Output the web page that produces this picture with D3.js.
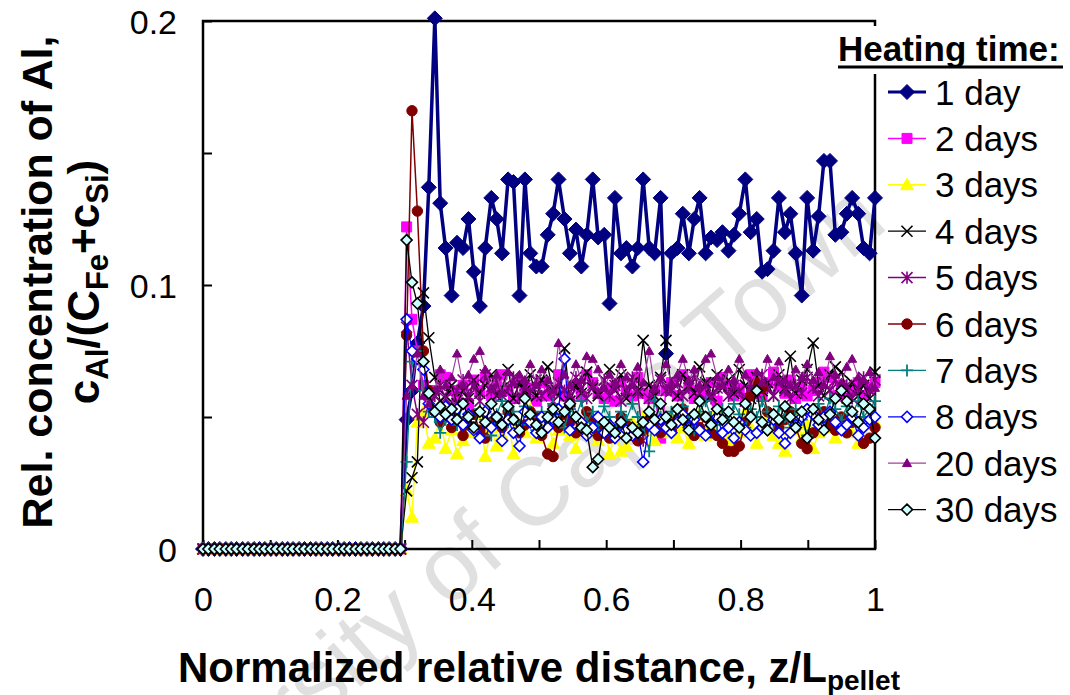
<!DOCTYPE html>
<html>
<head>
<meta charset="utf-8">
<script src="https://cdn.jsdelivr.net/npm/d3@7"></script>
<style>
  body { margin: 0; background: #fff; }
  svg { font-family: "Liberation Sans", Arial, sans-serif; }
</style>
</head>
<body>
<div id="chart"></div>
<script>
var svgWidth = 1070;
var svgHeight = 695;

var margin = { top: 21, right: 195, bottom: 146, left: 203 };
var width = svgWidth - margin.left - margin.right;
var height = svgHeight - margin.top - margin.bottom;

// sample positions z/L (120 points)
var dist = [
  0.000, 0.008, 0.017, 0.025, 0.034, 0.042, 0.050, 0.059, 0.067, 0.076, 0.084, 0.092,
  0.101, 0.109, 0.118, 0.126, 0.134, 0.143, 0.151, 0.160, 0.168, 0.176, 0.185, 0.193,
  0.202, 0.210, 0.218, 0.227, 0.235, 0.244, 0.252, 0.261, 0.269, 0.277, 0.286, 0.294,
  0.303, 0.311, 0.319, 0.328, 0.336, 0.345, 0.353, 0.361, 0.370, 0.378, 0.387, 0.395,
  0.403, 0.412, 0.420, 0.429, 0.437, 0.445, 0.454, 0.462, 0.471, 0.479, 0.487, 0.496,
  0.504, 0.513, 0.521, 0.529, 0.538, 0.546, 0.555, 0.563, 0.571, 0.580, 0.588, 0.597,
  0.605, 0.613, 0.622, 0.630, 0.639, 0.647, 0.655, 0.664, 0.672, 0.681, 0.689, 0.697,
  0.706, 0.714, 0.723, 0.731, 0.739, 0.748, 0.756, 0.765, 0.773, 0.782, 0.790, 0.798,
  0.807, 0.815, 0.824, 0.832, 0.840, 0.849, 0.857, 0.866, 0.874, 0.882, 0.891, 0.899,
  0.908, 0.916, 0.924, 0.933, 0.941, 0.950, 0.958, 0.966, 0.975, 0.983, 0.992, 1.000
];

// no Al found before z/L ~ 0.3 (first 36 samples)
var leadZeros = [
  0, 0, 0, 0, 0, 0, 0, 0, 0, 0, 0, 0,
  0, 0, 0, 0, 0, 0, 0, 0, 0, 0, 0, 0,
  0, 0, 0, 0, 0, 0, 0, 0, 0, 0, 0, 0
];

var day1 = leadZeros.concat([
  0.049, 0.060, 0.078, 0.092, 0.137, 0.201, 0.131, 0.114, 0.096, 0.116, 0.114, 0.125,
  0.105, 0.092, 0.114, 0.133, 0.125, 0.112, 0.140, 0.139, 0.096, 0.140, 0.112, 0.107,
  0.107, 0.119, 0.127, 0.140, 0.125, 0.112, 0.121, 0.107, 0.119, 0.140, 0.118, 0.119,
  0.093, 0.133, 0.112, 0.114, 0.107, 0.114, 0.140, 0.114, 0.112, 0.133, 0.074, 0.112,
  0.114, 0.127, 0.112, 0.125, 0.133, 0.112, 0.118, 0.117, 0.120, 0.113, 0.119, 0.127,
  0.140, 0.120, 0.125, 0.105, 0.106, 0.113, 0.133, 0.120, 0.127, 0.112, 0.096, 0.133,
  0.113, 0.126, 0.147, 0.147, 0.119, 0.120, 0.127, 0.133, 0.127, 0.114, 0.112, 0.133
]);

var day2 = leadZeros.concat([
  0.122, 0.087, 0.075, 0.062, 0.058, 0.060, 0.066, 0.065, 0.060, 0.058, 0.062, 0.055,
  0.064, 0.060, 0.065, 0.058, 0.062, 0.066, 0.060, 0.057, 0.063, 0.059, 0.061, 0.056,
  0.063, 0.058, 0.060, 0.066, 0.058, 0.055, 0.062, 0.058, 0.066, 0.063, 0.059, 0.057,
  0.061, 0.056, 0.063, 0.060, 0.058, 0.065, 0.059, 0.057, 0.060, 0.042, 0.060, 0.063,
  0.058, 0.066, 0.061, 0.057, 0.060, 0.058, 0.063, 0.056, 0.065, 0.062, 0.058, 0.061,
  0.057, 0.066, 0.060, 0.058, 0.063, 0.067, 0.062, 0.059, 0.064, 0.057, 0.061, 0.058,
  0.060, 0.063, 0.067, 0.065, 0.058, 0.062, 0.057, 0.060, 0.063, 0.058, 0.061, 0.063
]);

var day3 = leadZeros.concat([
  0.022, 0.012, 0.048, 0.052, 0.040, 0.042, 0.050, 0.038, 0.045, 0.036, 0.041, 0.048,
  0.044, 0.052, 0.035, 0.046, 0.039, 0.043, 0.050, 0.036, 0.047, 0.044, 0.053, 0.042,
  0.046, 0.049, 0.040, 0.045, 0.051, 0.043, 0.038, 0.047, 0.050, 0.044, 0.041, 0.048,
  0.036, 0.044, 0.037, 0.039, 0.048, 0.043, 0.050, 0.045, 0.041, 0.047, 0.044, 0.049,
  0.042, 0.046, 0.040, 0.048, 0.051, 0.043, 0.047, 0.053, 0.045, 0.041, 0.048, 0.044,
  0.052, 0.046, 0.040, 0.047, 0.050, 0.043, 0.040, 0.037, 0.045, 0.051, 0.042, 0.047,
  0.038, 0.044, 0.049, 0.046, 0.042, 0.048, 0.051, 0.044, 0.040, 0.047, 0.050, 0.048
]);

var day4 = leadZeros.concat([
  0.022, 0.027, 0.033, 0.097, 0.080, 0.065, 0.056, 0.058, 0.062, 0.055, 0.060, 0.057,
  0.064, 0.059, 0.062, 0.066, 0.058, 0.061, 0.068, 0.057, 0.063, 0.060, 0.066, 0.058,
  0.064, 0.069, 0.060, 0.058, 0.076, 0.056, 0.062, 0.059, 0.067, 0.061, 0.058, 0.064,
  0.068, 0.060, 0.066, 0.057, 0.063, 0.060, 0.079, 0.062, 0.058, 0.065, 0.079, 0.060,
  0.058, 0.066, 0.062, 0.059, 0.069, 0.063, 0.058, 0.066, 0.061, 0.064, 0.059, 0.068,
  0.062, 0.057, 0.065, 0.060, 0.063, 0.058, 0.066, 0.061, 0.073, 0.059, 0.064, 0.068,
  0.078, 0.062, 0.058, 0.066, 0.069, 0.067, 0.060, 0.063, 0.058, 0.062, 0.057, 0.067
]);

var day5 = leadZeros.concat([
  0.084, 0.062, 0.051, 0.048, 0.055, 0.058, 0.062, 0.057, 0.054, 0.060, 0.064, 0.058,
  0.062, 0.056, 0.066, 0.060, 0.063, 0.058, 0.061, 0.065, 0.057, 0.062, 0.059, 0.064,
  0.058, 0.061, 0.056, 0.063, 0.060, 0.058, 0.065, 0.061, 0.057, 0.062, 0.059, 0.064,
  0.058, 0.062, 0.056, 0.060, 0.065, 0.059, 0.041, 0.057, 0.061, 0.064, 0.060, 0.060,
  0.063, 0.058, 0.061, 0.066, 0.059, 0.062, 0.057, 0.061, 0.064, 0.058, 0.062, 0.060,
  0.056, 0.063, 0.059, 0.066, 0.061, 0.058, 0.064, 0.060, 0.057, 0.062, 0.059, 0.065,
  0.061, 0.058, 0.063, 0.060, 0.064, 0.059, 0.062, 0.057, 0.061, 0.065, 0.060, 0.064
]);

var day6 = leadZeros.concat([
  0.081, 0.166, 0.128, 0.075, 0.060, 0.052, 0.048, 0.050, 0.046, 0.049, 0.043, 0.047,
  0.051, 0.045, 0.042, 0.048, 0.050, 0.046, 0.052, 0.049, 0.044, 0.047, 0.052, 0.050,
  0.043, 0.036, 0.035, 0.046, 0.051, 0.048, 0.044, 0.047, 0.052, 0.049, 0.043, 0.046,
  0.042, 0.045, 0.050, 0.047, 0.043, 0.041, 0.045, 0.049, 0.046, 0.044, 0.048, 0.045,
  0.049, 0.053, 0.047, 0.043, 0.046, 0.050, 0.044, 0.043, 0.040, 0.037, 0.037, 0.039,
  0.048, 0.058, 0.063, 0.061, 0.052, 0.050, 0.046, 0.049, 0.052, 0.046, 0.040, 0.038,
  0.044, 0.049, 0.052, 0.047, 0.045, 0.050, 0.044, 0.048, 0.048, 0.040, 0.042, 0.046
]);

var day7 = leadZeros.concat([
  0.033, 0.071, 0.075, 0.060, 0.052, 0.050, 0.044, 0.049, 0.052, 0.047, 0.055, 0.050,
  0.046, 0.053, 0.049, 0.043, 0.051, 0.056, 0.048, 0.052, 0.047, 0.054, 0.050, 0.045,
  0.052, 0.049, 0.055, 0.051, 0.046, 0.053, 0.050, 0.056, 0.048, 0.052, 0.047, 0.054,
  0.050, 0.045, 0.052, 0.049, 0.055, 0.050, 0.047, 0.037, 0.056, 0.050, 0.050, 0.052,
  0.048, 0.054, 0.049, 0.045, 0.052, 0.056, 0.050, 0.047, 0.053, 0.049, 0.055, 0.051,
  0.046, 0.053, 0.050, 0.056, 0.052, 0.048, 0.054, 0.050, 0.046, 0.053, 0.049, 0.043,
  0.051, 0.055, 0.050, 0.057, 0.053, 0.049, 0.054, 0.051, 0.056, 0.050, 0.053, 0.056
]);

var day8 = leadZeros.concat([
  0.087, 0.075, 0.072, 0.068, 0.055, 0.052, 0.050, 0.054, 0.049, 0.053, 0.047, 0.051,
  0.045, 0.042, 0.052, 0.046, 0.050, 0.041, 0.049, 0.044, 0.039, 0.052, 0.048, 0.044,
  0.050, 0.046, 0.049, 0.053, 0.072, 0.045, 0.050, 0.048, 0.043, 0.046, 0.050, 0.044,
  0.047, 0.042, 0.048, 0.045, 0.043, 0.044, 0.033, 0.047, 0.045, 0.049, 0.046, 0.044,
  0.048, 0.051, 0.046, 0.049, 0.045, 0.043, 0.047, 0.050, 0.044, 0.046, 0.042, 0.048,
  0.045, 0.043, 0.044, 0.046, 0.045, 0.049, 0.044, 0.040, 0.044, 0.047, 0.050, 0.053,
  0.051, 0.047, 0.050, 0.052, 0.048, 0.045, 0.047, 0.050, 0.043, 0.046, 0.049, 0.050
]);

var day20 = leadZeros.concat([
  0.058, 0.062, 0.074, 0.058, 0.055, 0.060, 0.068, 0.062, 0.065, 0.074, 0.062, 0.066,
  0.072, 0.075, 0.068, 0.061, 0.066, 0.059, 0.067, 0.063, 0.066, 0.064, 0.070, 0.062,
  0.068, 0.064, 0.060, 0.078, 0.066, 0.062, 0.070, 0.064, 0.073, 0.072, 0.068, 0.061,
  0.066, 0.063, 0.070, 0.065, 0.062, 0.069, 0.063, 0.075, 0.061, 0.065, 0.070, 0.063,
  0.066, 0.072, 0.064, 0.068, 0.062, 0.072, 0.074, 0.065, 0.062, 0.068, 0.064, 0.072,
  0.066, 0.061, 0.067, 0.063, 0.072, 0.065, 0.071, 0.064, 0.062, 0.068, 0.065, 0.070,
  0.064, 0.067, 0.062, 0.073, 0.066, 0.063, 0.069, 0.072, 0.065, 0.064, 0.067, 0.061
]);

var day30 = leadZeros.concat([
  0.117, 0.101, 0.093, 0.071, 0.059, 0.052, 0.054, 0.051, 0.053, 0.049, 0.055, 0.050,
  0.046, 0.052, 0.048, 0.055, 0.050, 0.047, 0.054, 0.049, 0.045, 0.057, 0.051, 0.047,
  0.044, 0.050, 0.053, 0.048, 0.052, 0.055, 0.050, 0.046, 0.045, 0.031, 0.034, 0.048,
  0.046, 0.044, 0.048, 0.042, 0.046, 0.044, 0.048, 0.052, 0.049, 0.055, 0.050, 0.047,
  0.053, 0.049, 0.045, 0.051, 0.056, 0.050, 0.047, 0.053, 0.049, 0.052, 0.048, 0.046,
  0.055, 0.050, 0.060, 0.048, 0.045, 0.051, 0.049, 0.054, 0.050, 0.046, 0.052, 0.042,
  0.053, 0.049, 0.045, 0.051, 0.057, 0.060, 0.056, 0.052, 0.048, 0.055, 0.053, 0.042
]);

var seriesNames = ["1 day", "2 days", "3 days", "4 days", "5 days", "6 days", "7 days", "8 days", "20 days", "30 days"];
var seriesValues = [day1, day2, day3, day4, day5, day6, day7, day8, day20, day30];

var xTicks = [0, 0.1, 0.2, 0.3, 0.4, 0.5, 0.6, 0.7, 0.8, 0.9, 1];
var xTickLabels = ["0", "", "0.2", "", "0.4", "", "0.6", "", "0.8", "", "1"];
var yTicks = [0, 0.05, 0.1, 0.15, 0.2];
var yTickLabels = ["0", "", "0.1", "", "0.2"];

// look of each series (Excel style markers)
var styles = [
  { line: "#000080", lw: 3.5, marker: "diamond", r: 7.5, fill: "#000080", stroke: "#000080", sw: 1 },
  { line: "#FF00FF", lw: 1.5, marker: "square", r: 5, fill: "#FF00FF", stroke: "#FF00FF", sw: 1 },
  { line: "#FFFF00", lw: 1.5, marker: "triangle", r: 6.5, fill: "#FFFF00", stroke: "#FFFF00", sw: 1 },
  { line: "#000000", lw: 1.3, marker: "times", r: 5.5, fill: "none", stroke: "#000000", sw: 1.6 },
  { line: "#800080", lw: 1.5, marker: "asterisk", r: 5.5, fill: "none", stroke: "#800080", sw: 1.6 },
  { line: "#800000", lw: 1.5, marker: "circle", r: 5.2, fill: "#800000", stroke: "#800000", sw: 1 },
  { line: "#008080", lw: 1.3, marker: "plus", r: 6, fill: "none", stroke: "#008080", sw: 1.8 },
  { line: "#0000FF", lw: 1.3, marker: "diamond", r: 5.5, fill: "#FFFFFF", stroke: "#0000FF", sw: 1.6 },
  { line: "#A040A0", lw: 1.2, marker: "triangle", r: 4.5, fill: "#800080", stroke: "#800080", sw: 1 },
  { line: "#000000", lw: 1.3, marker: "diamond", r: 5.5, fill: "#CCFFFF", stroke: "#000000", sw: 1.6 }
];

function markerPath(type, r) {
  if (type === "diamond") return `M0,${-r}L${r},0L0,${r}L${-r},0Z`;
  if (type === "square") return `M${-r},${-r}H${r}V${r}H${-r}Z`;
  if (type === "triangle") return `M0,${-r}L${r},${r * 0.75}L${-r},${r * 0.75}Z`;
  if (type === "times") return `M${-r},${-r}L${r},${r}M${-r},${r}L${r},${-r}`;
  if (type === "plus") return `M${-r},0H${r}M0,${-r}V${r}`;
  if (type === "asterisk") return `M${-r},${-r}L${r},${r}M${-r},${r}L${r},${-r}M0,${-r * 1.1}V${r * 1.1}`;
  return d3.symbol(d3.symbolCircle, Math.PI * r * r)();
}

var svg = d3.select("#chart")
  .append("svg")
  .attr("width", svgWidth)
  .attr("height", svgHeight);

// watermark
svg.append("text")
  .attr("transform", "translate(478, 540) rotate(-41)")
  .attr("text-anchor", "middle")
  .attr("dy", "0.35em")
  .style("font-size", "96px")
  .attr("fill", "#e0e0e0")
  .text("University of Cape Town");

var chartGroup = svg.append("g")
  .attr("transform", `translate(${margin.left}, ${margin.top})`);

var xLinearScale = d3.scaleLinear().domain([0, 1]).range([0, width]);
var yLinearScale = d3.scaleLinear().domain([0, 0.2]).range([height, 0]);

var bottomAxis = d3.axisBottom(xLinearScale)
  .tickValues(xTicks)
  .tickSizeInner(-9)
  .tickSizeOuter(0)
  .tickPadding(38)
  .tickFormat((d, i) => xTickLabels[i]);

var leftAxis = d3.axisLeft(yLinearScale)
  .tickValues(yTicks)
  .tickSizeInner(-9)
  .tickSizeOuter(0)
  .tickPadding(26)
  .tickFormat((d, i) => yTickLabels[i]);

var xAxis = chartGroup.append("g")
  .attr("transform", `translate(0, ${height})`)
  .call(bottomAxis);

var yAxis = chartGroup.append("g")
  .call(leftAxis);

[xAxis, yAxis].forEach(function(ax) {
  ax.select(".domain").remove();
  ax.selectAll(".tick line").attr("stroke", "#000").attr("stroke-width", 2);
  ax.selectAll(".tick text")
    .style("font-size", "34px")
    .style("font-family", "'Liberation Sans', Arial, sans-serif")
    .attr("fill", "#000");
});
yAxis.selectAll(".tick text").attr("dy", "0.36em");

// plot frame
chartGroup.append("rect")
  .attr("width", width)
  .attr("height", height)
  .attr("fill", "none")
  .attr("stroke", "#000")
  .attr("stroke-width", 2.5);

// series
var line = d3.line()
  .x((d, i) => xLinearScale(dist[i]))
  .y(d => yLinearScale(d));

seriesValues.forEach(function(vals, s) {
  var st = styles[s];
  var g = chartGroup.append("g");
  g.append("path")
    .datum(vals)
    .attr("d", line)
    .attr("fill", "none")
    .attr("stroke", st.line)
    .attr("stroke-width", st.lw)
    .attr("stroke-linejoin", "round");
  g.selectAll("path.mk")
    .data(vals)
    .enter()
    .append("path")
    .classed("mk", true)
    .attr("transform", (d, i) => `translate(${xLinearScale(dist[i])}, ${yLinearScale(d)})`)
    .attr("d", markerPath(st.marker, st.r))
    .attr("fill", st.fill)
    .attr("stroke", st.stroke)
    .attr("stroke-width", st.sw);
});

// legend title box
svg.append("rect")
  .attr("x", 832)
  .attr("y", 26)
  .attr("width", 238)
  .attr("height", 48)
  .attr("fill", "#fff");

svg.append("text")
  .attr("x", 838)
  .attr("y", 61)
  .style("font-size", "35px")
  .style("font-weight", "bold")
  .text("Heating time:");

svg.append("line")
  .attr("x1", 838)
  .attr("x2", 1063)
  .attr("y1", 67)
  .attr("y2", 67)
  .attr("stroke", "#000")
  .attr("stroke-width", 3);

var legend = svg.append("g")
  .selectAll("g")
  .data(seriesNames)
  .enter()
  .append("g")
  .attr("transform", (d, i) => `translate(888, ${92 + i * 46.4})`);

legend.append("line")
  .attr("x1", 0)
  .attr("x2", 38)
  .attr("stroke", (d, i) => styles[i].line)
  .attr("stroke-width", (d, i) => Math.min(styles[i].lw, 3));

legend.append("path")
  .attr("transform", "translate(19, 0)")
  .attr("d", (d, i) => markerPath(styles[i].marker, styles[i].r))
  .attr("fill", (d, i) => styles[i].fill)
  .attr("stroke", (d, i) => styles[i].stroke)
  .attr("stroke-width", (d, i) => styles[i].sw);

legend.append("text")
  .attr("x", 47)
  .attr("dy", "0.36em")
  .style("font-size", "35px")
  .text(d => d);

// axis titles
var xTitle = svg.append("text")
  .attr("x", 539)
  .attr("y", 682)
  .attr("text-anchor", "middle")
  .style("font-size", "42px")
  .style("font-weight", "bold");
xTitle.append("tspan").text("Normalized relative distance, z/L");
xTitle.append("tspan").attr("dy", 8).style("font-size", "28px").text("pellet");

var yTitle = svg.append("g")
  .attr("transform", "translate(0, 282) rotate(-90)")
  .style("font-weight", "bold");

yTitle.append("text")
  .attr("x", 0)
  .attr("y", 52)
  .attr("text-anchor", "middle")
  .style("font-size", "43px")
  .text("Rel. concentration of Al,");

var y2 = yTitle.append("text")
  .attr("x", 0)
  .attr("y", 99)
  .attr("text-anchor", "middle")
  .style("font-size", "44px");
y2.append("tspan").text("c");
y2.append("tspan").attr("dy", 9).style("font-size", "31px").text("Al");
y2.append("tspan").attr("dy", -9).text("/(C");
y2.append("tspan").attr("dy", 9).style("font-size", "31px").text("Fe");
y2.append("tspan").attr("dy", -9).text("+c");
y2.append("tspan").attr("dy", 9).style("font-size", "31px").text("Si");
y2.append("tspan").attr("dy", -9).text(")");
</script>
</body>
</html>
